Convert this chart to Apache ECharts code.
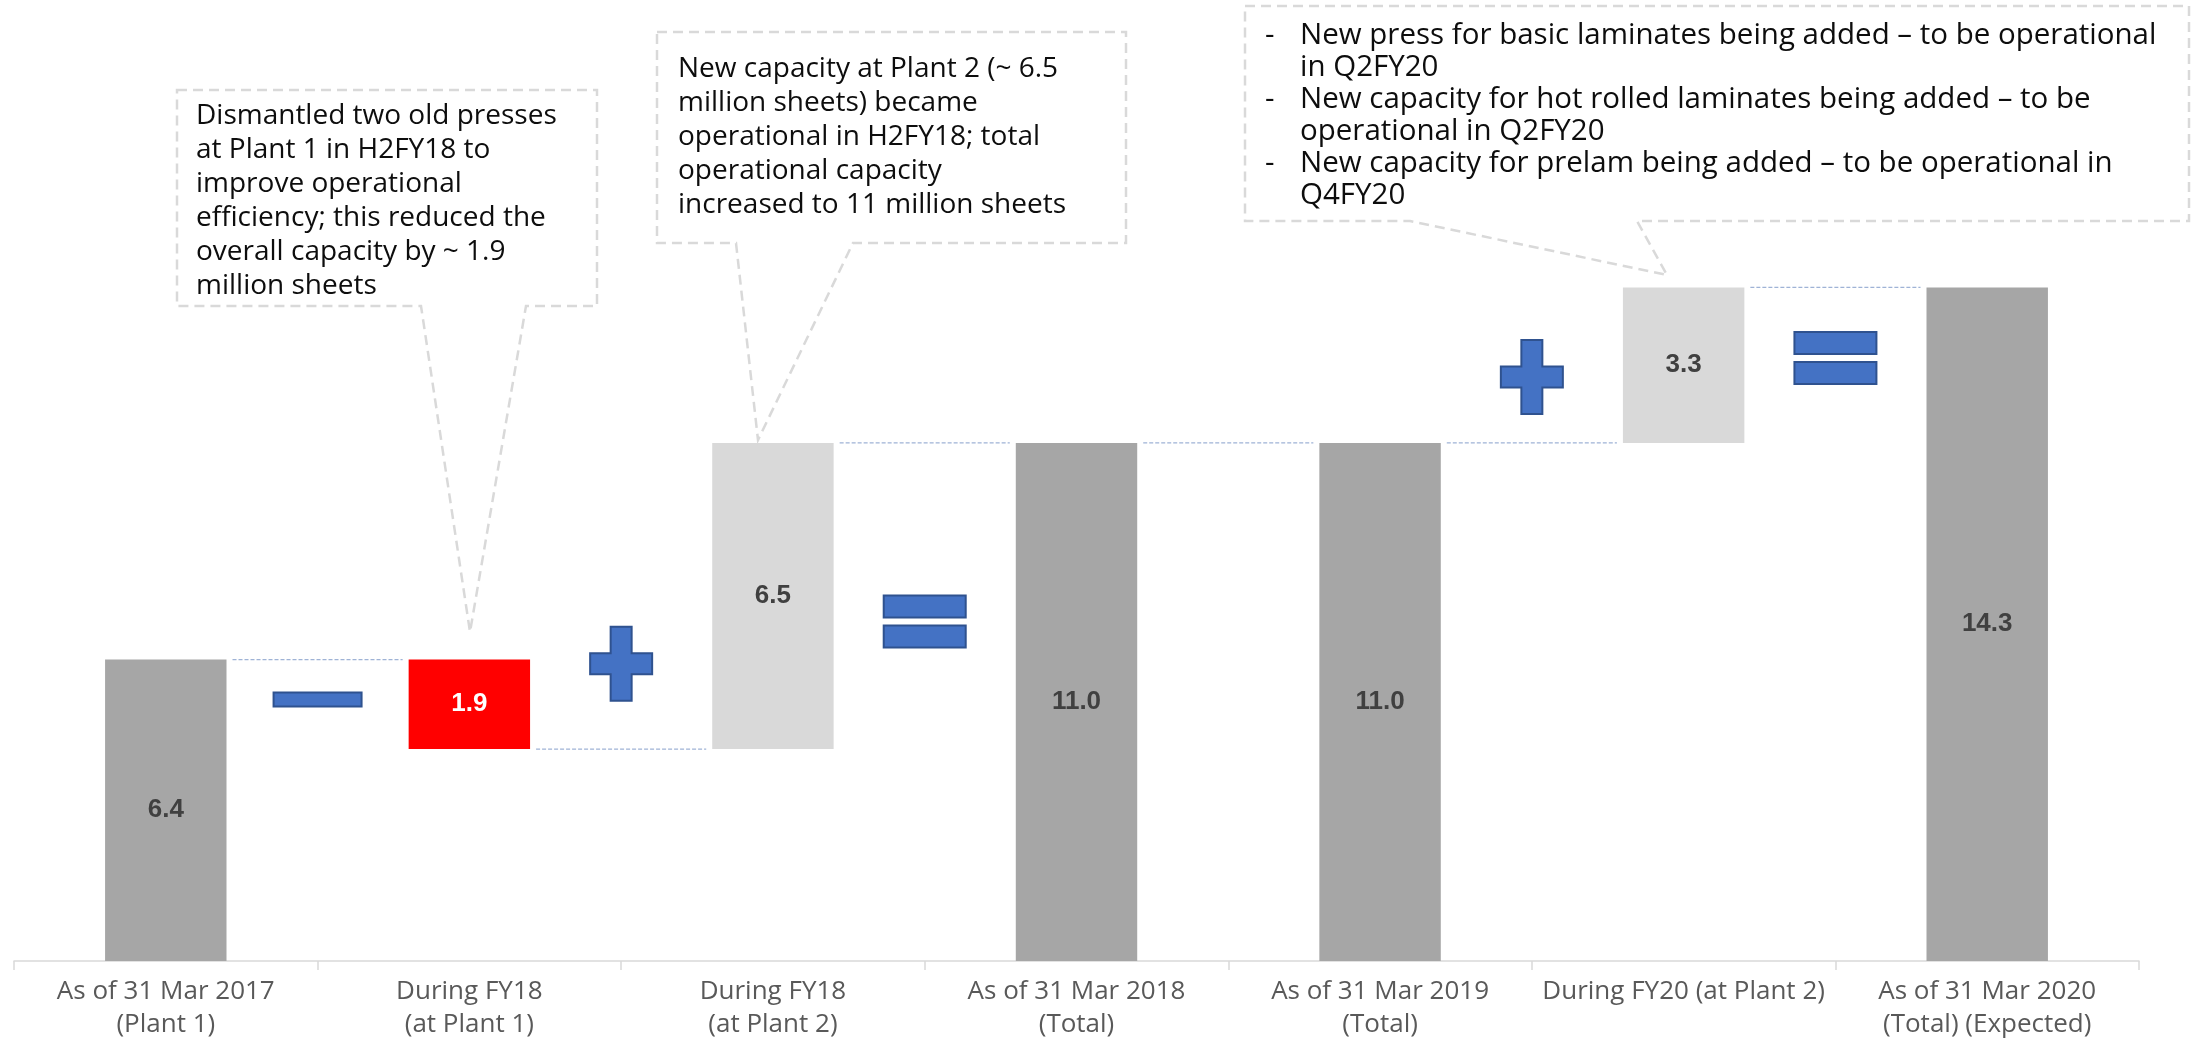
<!DOCTYPE html>
<html>
<head>
<meta charset="utf-8">
<title>Capacity bridge</title>
<script src="https://cdn.jsdelivr.net/npm/echarts@6/dist/echarts.min.js"></script>
<style>
  html, body { margin: 0; padding: 0; background: #fff; }
  #chart { width: 2196px; height: 1041px; }
</style>
</head>
<body>
<div id="chart"></div>
<script>
// categories along the bottom
const categories = [
    'As of 31 Mar 2017\n(Plant 1)',
    'During FY18\n(at Plant 1)',
    'During FY18\n(at Plant 2)',
    'As of 31 Mar 2018\n(Total)',
    'As of 31 Mar 2019\n(Total)',
    'During FY20 (at Plant 2)',
    'As of 31 Mar 2020\n(Total) (Expected)'
];
// visible bar heights (million sheets)
const barValues = [6.4, 1.9, 6.5, 11.0, 11.0, 3.3, 14.3];
// invisible base under each floating bar
const barBases = [0, 4.5, 4.5, 0, 0, 11.0, 0];
// total / decrease / increase
const barKinds = ['total', 'decrease', 'increase', 'total', 'total', 'increase', 'total'];
// dotted connector levels, from category i to i+1
const connectorLevels = [6.4, 4.5, 11.0, 11.0, 11.0, 14.3];

// blue operator signs sitting in the gap after a category
const operatorSlots = [0, 1, 2, 4, 5];
const operatorSigns = ['minus', 'plus', 'equals', 'plus', 'equals'];
const operatorLevels = [5.55, 6.31, 7.21, 12.4, 12.8];

const kindColor = { total: '#a6a6a6', decrease: '#ff0000', increase: '#d9d9d9' };
const kindLabel = { total: '#404040', decrease: '#ffffff', increase: '#404040' };

const textFont = '"Open Sans", "DejaVu Sans", sans-serif';

const chart = echarts.init(document.getElementById('chart'));

// callout boxes with the little wedge pointing at a bar
function callout(points) {
    return {
        type: 'polygon',
        shape: { points: points },
        style: { fill: 'none', stroke: '#d9d9d9', lineWidth: 2.5, lineDash: [10, 6] },
        z: 10
    };
}
function note(x, y, text, size, lh) {
    return {
        type: 'text',
        x: x,
        y: y,
        style: {
            text: text,
            fill: '#0d0d0d',
            fontSize: size,
            fontFamily: textFont,
            lineHeight: lh,
            verticalAlign: 'top'
        },
        z: 11
    };
}

const option = {
    backgroundColor: '#ffffff',
    animation: false,
    grid: { left: 14, right: 57, top: 19, bottom: 80, containLabel: false },
    xAxis: {
        type: 'category',
        data: categories,
        axisLine: { lineStyle: { color: '#d9d9d9', width: 1.5 } },
        axisTick: { show: true, length: 9, lineStyle: { color: '#d9d9d9', width: 1.5 } },
        axisLabel: {
            interval: 0,
            margin: 14,
            color: '#595959',
            fontSize: 26,
            lineHeight: 33,
            fontFamily: textFont,
            hideOverlap: false
        }
    },
    yAxis: { type: 'value', min: 0, max: 20, show: false, splitLine: { show: false } },
    series: [
        {
            name: 'base',
            type: 'bar',
            stack: 'bridge',
            barWidth: '40%',
            silent: true,
            itemStyle: { color: 'transparent' },
            data: barBases
        },
        {
            name: 'value',
            type: 'bar',
            stack: 'bridge',
            barWidth: '40%',
            data: barValues.map(function (v, i) {
                return {
                    value: v,
                    itemStyle: { color: kindColor[barKinds[i]] },
                    label: { color: kindLabel[barKinds[i]] }
                };
            }),
            label: {
                show: true,
                position: 'inside',
                fontSize: 26,
                fontWeight: 'bold',
                fontFamily: '"Liberation Sans", Arial, sans-serif',
                formatter: function (p) { return p.value.toFixed(1); }
            }
        },
        {
            // dotted connectors between bar tops / bottoms
            name: 'connectors',
            type: 'custom',
            silent: true,
            z: 5,
            data: connectorLevels.map(function (v, i) { return [i, v]; }),
            renderItem: function (params, api) {
                const i = api.value(0);
                const lvl = api.value(1);
                const a = api.coord([i, lvl]);
                const b = api.coord([i + 1, lvl]);
                const half = api.size([1, 0])[0] * 0.2;
                return {
                    type: 'line',
                    shape: { x1: a[0] + half + 6, y1: a[1], x2: b[0] - half - 6, y2: b[1] },
                    style: { stroke: '#9fb3d6', lineWidth: 1.2, lineDash: [4, 2] }
                };
            }
        },
        {
            // blue minus / plus / equals signs
            name: 'operators',
            type: 'custom',
            silent: true,
            z: 6,
            data: operatorSlots.map(function (s, i) { return [s, operatorLevels[i]]; }),
            renderItem: function (params, api) {
                const s = api.value(0);
                const lvl = api.value(1);
                const a = api.coord([s, lvl]);
                const b = api.coord([s + 1, lvl]);
                const cx = (a[0] + b[0]) / 2;
                const cy = a[1];
                const st = { fill: '#4472c4', stroke: '#2f528f', lineWidth: 2 };
                const sign = operatorSigns[params.dataIndex];
                if (sign === 'minus') {
                    return { type: 'rect', shape: { x: cx - 44, y: cy - 7, width: 88, height: 14 }, style: st };
                }
                if (sign === 'equals') {
                    return {
                        type: 'group',
                        children: [
                            { type: 'rect', shape: { x: cx - 41, y: cy - 26, width: 82, height: 22 }, style: st },
                            { type: 'rect', shape: { x: cx - 41, y: cy + 4, width: 82, height: 22 }, style: st }
                        ]
                    };
                }
                const W = 31, H = 37, t = 10.5;
                const pts = [[-t, -H], [t, -H], [t, -t], [W, -t], [W, t], [t, t], [t, H], [-t, H],
                    [-t, t], [-W, t], [-W, -t], [-t, -t]].map(function (p) { return [cx + p[0], cy + p[1]]; });
                return { type: 'polygon', shape: { points: pts }, style: st };
            }
        }
    ],
    graphic: [
        callout([[177, 90], [597, 90], [597, 306], [526, 306], [470, 632], [421, 306], [177, 306]]),
        note(196, 99, 'Dismantled two old presses\nat Plant 1 in H2FY18 to\nimprove operational\nefficiency; this reduced the\noverall capacity by ~ 1.9\nmillion sheets', 28, 34),

        callout([[657, 32], [1126, 32], [1126, 243], [853, 243], [758, 440], [736, 243], [657, 243]]),
        note(678, 52, 'New capacity at Plant 2 (~ 6.5\nmillion sheets) became\noperational in H2FY18; total\noperational capacity\nincreased to 11 million sheets', 28, 34),

        callout([[1245, 6], [2189, 6], [2189, 221], [1637, 221], [1667, 275], [1410, 221], [1245, 221]]),
        note(1265, 20, '-\n\n-\n\n-', 29.5, 32),
        note(1300, 20, 'New press for basic laminates being added \u2013 to be operational\nin Q2FY20\nNew capacity for hot rolled laminates being added \u2013 to be\noperational in Q2FY20\nNew capacity for prelam being added \u2013 to be operational in\nQ4FY20', 29.5, 32)
    ]
};

chart.setOption(option);
</script>
</body>
</html>
